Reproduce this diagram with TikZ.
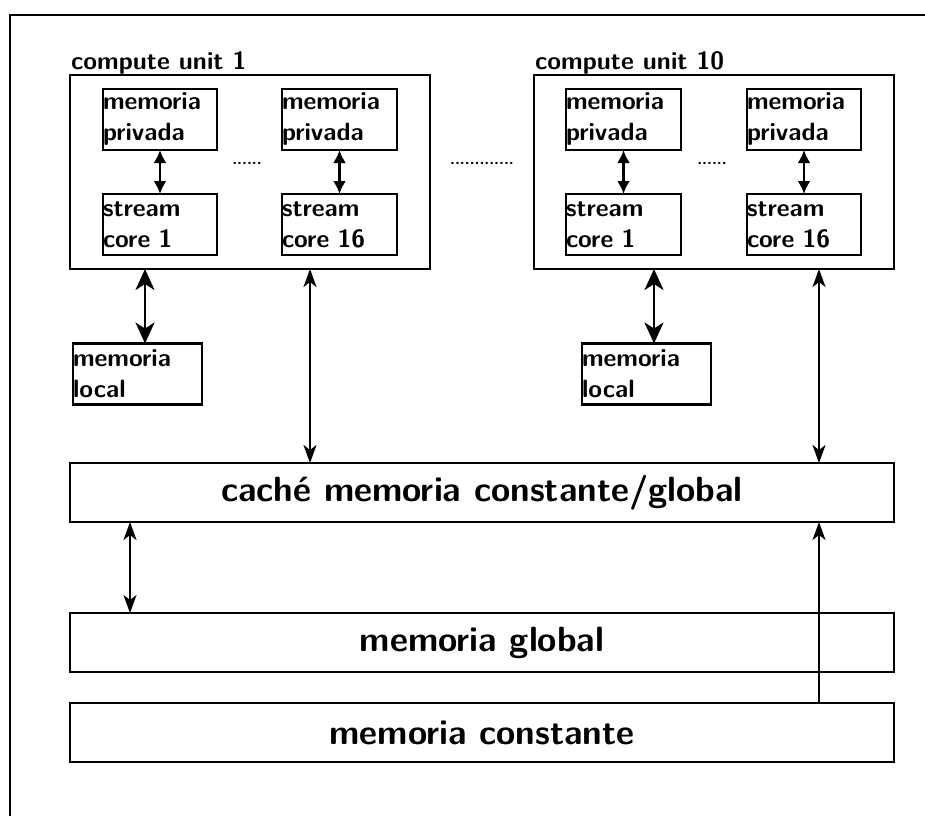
\documentclass[tikz,border=0pt]{standalone}
\usetikzlibrary{arrows.meta}
\begin{document}
\begin{tikzpicture}[x=1pt,y=-1pt,
  box/.style={draw,line width=2.4pt,inner sep=0pt,outer sep=0pt},
  cell/.style={box,minimum height=61pt,text width=114pt,align=left,
    font=\fontsize{25}{31}\selectfont\sffamily\bfseries},
  lbl/.style={anchor=base west,inner sep=0pt,
    font=\fontsize{25}{31}\selectfont\sffamily\bfseries},
  band/.style={box,minimum width=824pt,minimum height=59pt,
    font=\fontsize{35}{40}\selectfont\sffamily\bfseries},
  dotsx/.style={inner sep=0pt,font=\fontsize{16}{16}\selectfont\sffamily\bfseries},
  small/.style={line width=2.6pt,{Latex[length=13pt,width=13pt]}-{Latex[length=13pt,width=13pt]}},
  big/.style={line width=2.6pt,{Stealth[length=21pt,width=19pt,inset=6pt]}-{Stealth[length=21pt,width=19pt,inset=6pt]}},
  mid/.style={line width=2.2pt,{Stealth[length=18pt,width=13pt,inset=5pt]}-{Stealth[length=18pt,width=13pt,inset=5pt]}},
  thin/.style={line width=1.6pt,-{Stealth[length=18pt,width=13pt,inset=5pt]}}]
\useasboundingbox (0,0) rectangle (925,816);

% outer frame
\draw[line width=2.2pt] (925,15) -- (10,15) -- (10,816);

% compute units
\node[box,minimum width=360pt,minimum height=194pt] (cu1) at (250,172) {};
\node[box,minimum width=360pt,minimum height=194pt] (cu10) at (714,172) {};
\node[lbl] (cu1lbl) at (71,69) {compute unit 1};
\node[lbl] (cu10lbl) at (535,69) {compute unit 10};

% private memories and stream cores
\node[cell,text width=114pt] (mp1a) at (160,119.5) {memoria\\privada};
\node[cell,text width=114pt] (sc1a) at (160,224.5) {stream\\core 1};
\node[cell,text width=115pt] (mp1b) at (339.5,119.5) {memoria\\privada};
\node[cell,text width=115pt] (sc1b) at (339.5,224.5) {stream\\core 16};
\node[cell,text width=115pt] (mp10a) at (623.5,119.5) {memoria\\privada};
\node[cell,text width=115pt] (sc10a) at (623.5,224.5) {stream\\core 1};
\node[cell,text width=114pt] (mp10b) at (804,119.5) {memoria\\privada};
\node[cell,text width=114pt] (sc10b) at (804,224.5) {stream\\core 16};

\node[dotsx] (d1) at (247,163) {......};
\node[dotsx] (d2) at (712,163) {......};
\node[dotsx] (d3) at (482,163) {.............};

\draw[small] (mp1a) -- (sc1a);
\draw[small] (mp1b) -- (sc1b);
\draw[small] (mp10a) -- (sc10a);
\draw[small] (mp10b) -- (sc10b);

% local memories
\node[cell,text width=129pt] (loc1) at (137.5,374) {memoria\\local};
\node[cell,text width=129pt] (loc10) at (646.5,374) {memoria\\local};

% shared memories
\node[band] (cache) at (482,492.5) {caché memoria constante/global};
\node[band] (global) at (482,642.5) {memoria global};
\node[band] (const) at (482,732.5) {memoria constante};

% connections
\draw[big] ([xshift=7.5pt]loc1.north |- cu1.south) -- ([xshift=7.5pt]loc1.north);
\draw[big] ([xshift=7.5pt]loc10.north |- cu10.south) -- ([xshift=7.5pt]loc10.north);
\coordinate (c1) at ([xshift=60pt]cu1.south);
\coordinate (c10) at ([xshift=105pt]cu10.south);
\draw[mid] (c1) -- (c1 |- cache.north);
\draw[mid] (c10) -- (c10 |- cache.north);
\draw[mid] ([xshift=60pt]cache.south west) -- ([xshift=60pt]global.north west);
\draw[thin] (c10 |- const.north) -- (c10 |- cache.south);
\end{tikzpicture}
\end{document}
